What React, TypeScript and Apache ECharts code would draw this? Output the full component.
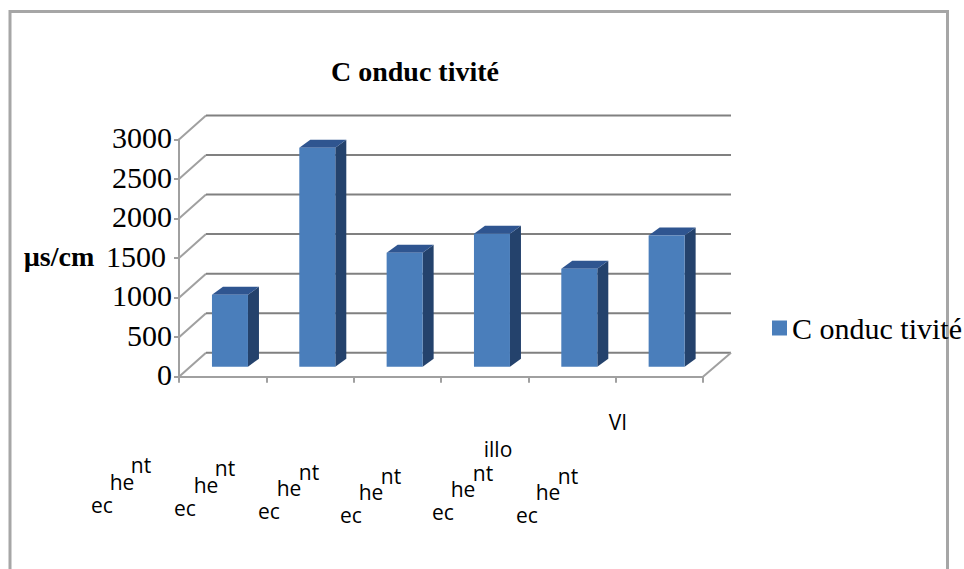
import React, { useEffect, useRef } from "react";
import * as echarts from "echarts";

const seriesName = "C onduc tivité";
const categories = ["I", "II", "III", "IV", "V", "VI"];
const values = [910, 2770, 1440, 1680, 1240, 1660];
const yTicks = [0, 500, 1000, 1500, 2000, 2500, 3000];
const yAxisName = "µs/cm";
const labelFragments: [string, number, number][] = [
  ["ec", 102, 505], ["he", 122, 482], ["nt", 141, 465],
  ["ec", 185, 508], ["he", 206, 485], ["nt", 225, 468],
  ["ec", 269, 511], ["he", 289, 488], ["nt", 309, 472],
  ["ec", 351, 515], ["he", 371, 492], ["nt", 391, 476],
  ["ec", 443, 512], ["he", 463, 489], ["nt", 483, 473], ["illo", 498, 449],
  ["ec", 527, 515], ["he", 548, 492], ["nt", 568, 476],
  ["VI", 618, 422],
];

const SERIF = "'Liberation Serif', serif";
const DEPTH_X = 27;
const DEPTH_Y = 24;
const GRID_COLOR = "#808080";
const DIAG_COLOR = "#a0a0a0";
const LINE_WIDTH = 2;

export default function App() {
  const ref = useRef<HTMLDivElement>(null);
  useEffect(() => {
    document.body.style.margin = "0";
    const chart = echarts.init(ref.current!, undefined, { renderer: "svg" });
    chart.setOption({
      animation: false,
      backgroundColor: "#ffffff",
      title: {
        text: seriesName,
        left: 331,
        top: 57,
        padding: 0,
        textStyle: { fontFamily: SERIF, fontWeight: "bold", fontSize: 28, color: "#000" },
      },
      legend: {
        left: 772,
        top: 313,
        padding: 0,
        itemWidth: 15,
        itemHeight: 15,
        data: [{ name: seriesName, icon: "rect", itemStyle: { color: "#4a7ebb" } }],
        textStyle: { fontFamily: SERIF, fontSize: 30, color: "#000" },
      },
      grid: { left: 179, right: 261, top: 139.5, bottom: 192.3 },
      xAxis: {
        type: "category",
        data: categories,
        boundaryGap: true,
        axisLine: { lineStyle: { color: DIAG_COLOR, width: LINE_WIDTH } },
        axisTick: { show: true, length: 6, lineStyle: { color: DIAG_COLOR, width: LINE_WIDTH } },
        axisLabel: { show: false },
        splitLine: { show: false },
      },
      yAxis: {
        type: "value",
        min: 0,
        max: 3000,
        interval: 500,
        axisLine: { show: true, lineStyle: { color: DIAG_COLOR, width: LINE_WIDTH } },
        axisTick: { show: true, length: 5, lineStyle: { color: DIAG_COLOR, width: LINE_WIDTH } },
        splitLine: { show: false },
        axisLabel: {
          margin: 7,
          fontFamily: SERIF,
          fontSize: 30,
          color: "#000",
          padding: [0, 0, 4, 0],
          formatter: (v: number) => (v === 1500 ? `{s|${v}}` : `${v}`),
          rich: { s: { fontFamily: SERIF, fontSize: 30, color: "#000", padding: [0, 6, 0, 0] } },
        },
      },
      series: [
        {
          type: "custom",
          name: "walls",
          coordinateSystem: "cartesian2d",
          silent: true,
          clip: false,
          z: 1,
          encode: { x: 0, y: 1 },
          data: yTicks.map((v) => [0, v]),
          renderItem: (params: any, api: any) => {
            const cs = params.coordSys;
            const y = api.coord([0, api.value(1)])[1];
            const left = cs.x;
            const right = cs.x + cs.width;
            const children: any[] = [
              {
                type: "line",
                shape: { x1: left, y1: y, x2: left + DEPTH_X, y2: y - DEPTH_Y },
                style: { stroke: DIAG_COLOR, lineWidth: LINE_WIDTH },
              },
              {
                type: "line",
                shape: { x1: left + DEPTH_X, y1: y - DEPTH_Y, x2: right + DEPTH_X + 1, y2: y - DEPTH_Y },
                style: { stroke: GRID_COLOR, lineWidth: LINE_WIDTH },
              },
            ];
            if (api.value(1) === 0) {
              children.push({
                type: "line",
                shape: { x1: right, y1: y, x2: right + DEPTH_X + 1, y2: y - DEPTH_Y },
                style: { stroke: DIAG_COLOR, lineWidth: LINE_WIDTH },
              });
            }
            return { type: "group", children };
          },
        },
        {
          type: "custom",
          name: seriesName,
          coordinateSystem: "cartesian2d",
          clip: false,
          z: 3,
          itemStyle: { color: "#4a7ebb" },
          encode: { x: 0, y: 1 },
          data: values.map((v, i) => [i, v]),
          renderItem: (_params: any, api: any) => {
            const idx = api.value(0);
            const [cx, yTop0] = api.coord([idx, api.value(1)]);
            const yBase0 = api.coord([idx, 0])[1];
            const x1 = cx + 7.3 - 18;
            const x2 = cx + 7.3 + 18;
            const yt = yTop0 - 10;
            const yb = yBase0 - 10;
            const dx = 11;
            const dy = 8;
            return {
              type: "group",
              children: [
                {
                  type: "polygon",
                  shape: { points: [[x2, yt], [x2 + dx, yt - dy], [x2 + dx, yb - dy], [x2, yb]] },
                  style: { fill: "#24426c" },
                },
                {
                  type: "polygon",
                  shape: { points: [[x1, yt], [x1 + dx, yt - dy], [x2 + dx, yt - dy], [x2, yt]] },
                  style: { fill: "#2f5590" },
                },
                {
                  type: "rect",
                  shape: { x: x1, y: yt, width: x2 - x1, height: yb - yt },
                  style: { fill: "#4a7ebb" },
                },
              ],
            };
          },
        },
      ],
      graphic: [
        {
          type: "rect",
          silent: true,
          z: -1,
          shape: { x: 10, y: 11.5, width: 937.5, height: 620 },
          style: { fill: "none", stroke: "#a6a6a6", lineWidth: 3 },
        },
        {
          type: "text",
          x: 59,
          y: 256,
          style: {
            text: yAxisName,
            fontFamily: SERIF,
            fontWeight: "bold",
            fontSize: 28,
            fill: "#000",
            textAlign: "center",
            textVerticalAlign: "middle",
          },
        },
        ...labelFragments.map(([text, x, y]) => ({
          type: "text",
          x,
          y,
          style: {
            text,
            fontFamily: "'Open Sans', sans-serif",
            fontSize: 21,
            fill: "#000",
            textAlign: "center",
            textVerticalAlign: "middle",
          },
        })),
      ],
    });
    return () => chart.dispose();
  }, []);
  return <div ref={ref} style={{ width: 964, height: 569 }} />;
}
